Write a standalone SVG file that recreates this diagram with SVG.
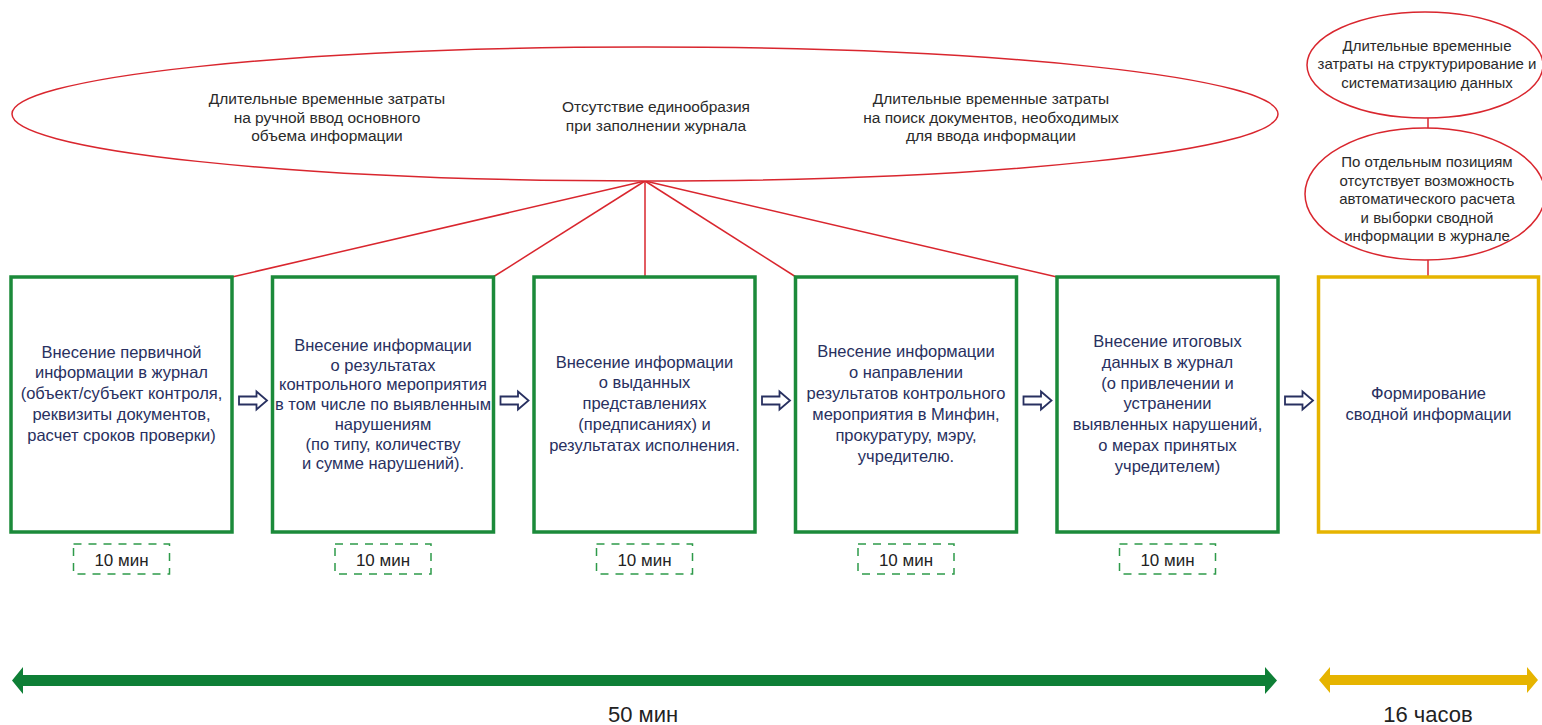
<svg xmlns="http://www.w3.org/2000/svg" xmlns:xlink="http://www.w3.org/1999/xlink" width="1542" height="725" viewBox="0 0 1542 725">
<style>
.box{fill:#fff;stroke:#1b8a3a;stroke-width:3.5}
.ybox{fill:#fff;stroke:#e6b400;stroke-width:3.5}
.dash{fill:none;stroke:#2e9a4a;stroke-width:1.5;stroke-dasharray:8 7}
.ell{fill:#fff;stroke:#d9262e;stroke-width:1.5}
.con{stroke:#d9262e;stroke-width:1.5;fill:none}
.bt{font-family:"Liberation Sans",Arial,sans-serif;font-size:16.5px;fill:#283060;text-anchor:middle}
.et{font-family:"Liberation Sans",Arial,sans-serif;font-size:15.5px;fill:#2a2a2a;text-anchor:middle}
.st{font-family:"Liberation Sans",Arial,sans-serif;font-size:15px;fill:#2a2a2a;text-anchor:middle}
.mt{font-family:"Liberation Sans",Arial,sans-serif;font-size:17px;fill:#222;text-anchor:middle}
.lt{font-family:"Liberation Sans",Arial,sans-serif;font-size:22px;fill:#222;text-anchor:middle}
.ba{fill:#fff;stroke:#283060;stroke-width:1.8;stroke-linejoin:miter}
</style>
<defs>
<path id="blk" d="M0,-4 H17.5 V-9 L28,0 L17.5,9 V4 H0 Z"/>
</defs>

<g id="connectors">
<line class="con" x1="645" y1="181" x2="232" y2="277"/>
<line class="con" x1="645" y1="181" x2="493" y2="277"/>
<line class="con" x1="645" y1="181" x2="645" y2="277"/>
<line class="con" x1="645" y1="181" x2="796" y2="277"/>
<line class="con" x1="645" y1="181" x2="1057" y2="277"/>
<line class="con" x1="1428" y1="118" x2="1428" y2="128"/>
<line class="con" x1="1428" y1="260" x2="1428" y2="277"/>
<use href="#blk" class="ba" x="239" y="400.5"/>
<use href="#blk" class="ba" x="500.5" y="400.5"/>
<use href="#blk" class="ba" x="762" y="400.5"/>
<use href="#blk" class="ba" x="1023.5" y="400.5"/>
<use href="#blk" class="ba" x="1285" y="400.5"/>
</g>

<g id="problems-main">
<ellipse class="ell" cx="645" cy="114" rx="633" ry="67"/>
<text class="et" x="327" y="104">Длительные временные затраты</text>
<text class="et" x="327" y="122.5">на ручной ввод основного</text>
<text class="et" x="327" y="141">объема информации</text>
<text class="et" x="656" y="112">Отсутствие единообразия</text>
<text class="et" x="656" y="130.5">при заполнении журнала</text>
<text class="et" x="991" y="104">Длительные временные затраты</text>
<text class="et" x="991" y="122.5">на поиск документов, необходимых</text>
<text class="et" x="991" y="141">для ввода информации</text>
</g>

<g id="problem-structuring">
<ellipse class="ell" cx="1425" cy="65" rx="118" ry="53"/>
<text class="st" x="1427" y="50.5">Длительные временные</text>
<text class="st" x="1427" y="69">затраты на структурирование и</text>
<text class="st" x="1427" y="87.5">систематизацию данных</text>
</g>

<g id="problem-autocalc">
<ellipse class="ell" cx="1425" cy="194" rx="120" ry="66"/>
<text class="st" x="1427" y="167">По отдельным позициям</text>
<text class="st" x="1427" y="185.5">отсутствует возможность</text>
<text class="st" x="1427" y="204">автоматического расчета</text>
<text class="st" x="1427" y="222.5">и выборки сводной</text>
<text class="st" x="1427" y="241">информации в журнале</text>
</g>

<g id="step1">
<rect class="box" x="11" y="277" width="221" height="255"/>
<text class="bt" x="121.5" y="357.5">Внесение первичной</text>
<text class="bt" x="121.5" y="378.3">информации в журнал</text>
<text class="bt" x="121.5" y="399.1">(объект/субъект контроля,</text>
<text class="bt" x="121.5" y="419.9">реквизиты документов,</text>
<text class="bt" x="121.5" y="440.7">расчет сроков проверки)</text>
<rect class="dash" x="73.5" y="544" width="96" height="30"/>
<text class="mt" x="121.5" y="566">10 мин</text>
</g>

<g id="step2">
<rect class="box" x="272.5" y="277" width="221" height="255"/>
<text class="bt" x="383" y="351">Внесение информации</text>
<text class="bt" x="383" y="370.7">о результатах</text>
<text class="bt" x="383" y="390.4">контрольного мероприятия</text>
<text class="bt" x="383" y="410.1">в том числе по выявленным</text>
<text class="bt" x="383" y="429.8">нарушениям</text>
<text class="bt" x="383" y="449.5">(по типу, количеству</text>
<text class="bt" x="383" y="469.2">и сумме нарушений).</text>
<rect class="dash" x="335" y="544" width="96" height="30"/>
<text class="mt" x="383" y="566">10 мин</text>
</g>

<g id="step3">
<rect class="box" x="534" y="277" width="221" height="255"/>
<text class="bt" x="644.5" y="367.5">Внесение информации</text>
<text class="bt" x="644.5" y="388.3">о выданных</text>
<text class="bt" x="644.5" y="409.1">представлениях</text>
<text class="bt" x="644.5" y="429.9">(предписаниях) и</text>
<text class="bt" x="644.5" y="450.7">результатах исполнения.</text>
<rect class="dash" x="596.5" y="544" width="96" height="30"/>
<text class="mt" x="644.5" y="566">10 мин</text>
</g>

<g id="step4">
<rect class="box" x="795.5" y="277" width="221" height="255"/>
<text class="bt" x="906" y="357">Внесение информации</text>
<text class="bt" x="906" y="378">о направлении</text>
<text class="bt" x="906" y="399">результатов контрольного</text>
<text class="bt" x="906" y="420">мероприятия в Минфин,</text>
<text class="bt" x="906" y="441">прокуратуру, мэру,</text>
<text class="bt" x="906" y="462">учредителю.</text>
<rect class="dash" x="858" y="544" width="96" height="30"/>
<text class="mt" x="906" y="566">10 мин</text>
</g>

<g id="step5">
<rect class="box" x="1057" y="277" width="221" height="255"/>
<text class="bt" x="1167.5" y="347">Внесение итоговых</text>
<text class="bt" x="1167.5" y="367.8">данных в журнал</text>
<text class="bt" x="1167.5" y="388.6">(о привлечении и</text>
<text class="bt" x="1167.5" y="409.4">устранении</text>
<text class="bt" x="1167.5" y="430.2">выявленных нарушений,</text>
<text class="bt" x="1167.5" y="451">о мерах принятых</text>
<text class="bt" x="1167.5" y="471.8">учредителем)</text>
<rect class="dash" x="1119.5" y="544" width="96" height="30"/>
<text class="mt" x="1167.5" y="566">10 мин</text>
</g>

<g id="step6">
<rect class="ybox" x="1318.5" y="277" width="220" height="255"/>
<text class="bt" x="1428.5" y="399">Формирование</text>
<text class="bt" x="1428.5" y="419.5">сводной информации</text>
</g>

<g id="timeline-50">
<polygon fill="#0e7f36" points="12,680.5 23,667 23,675 1265,675 1265,667 1277,680.5 1265,694 1265,686 23,686 23,694"/>
<text class="lt" x="643" y="722">50 мин</text>
</g>

<g id="timeline-16">
<polygon fill="#e6b400" points="1319,680 1330,667 1330,675 1527,675 1527,667 1538,680 1527,693 1527,685 1330,685 1330,693"/>
<text class="lt" x="1428" y="722">16 часов</text>
</g>
</svg>
